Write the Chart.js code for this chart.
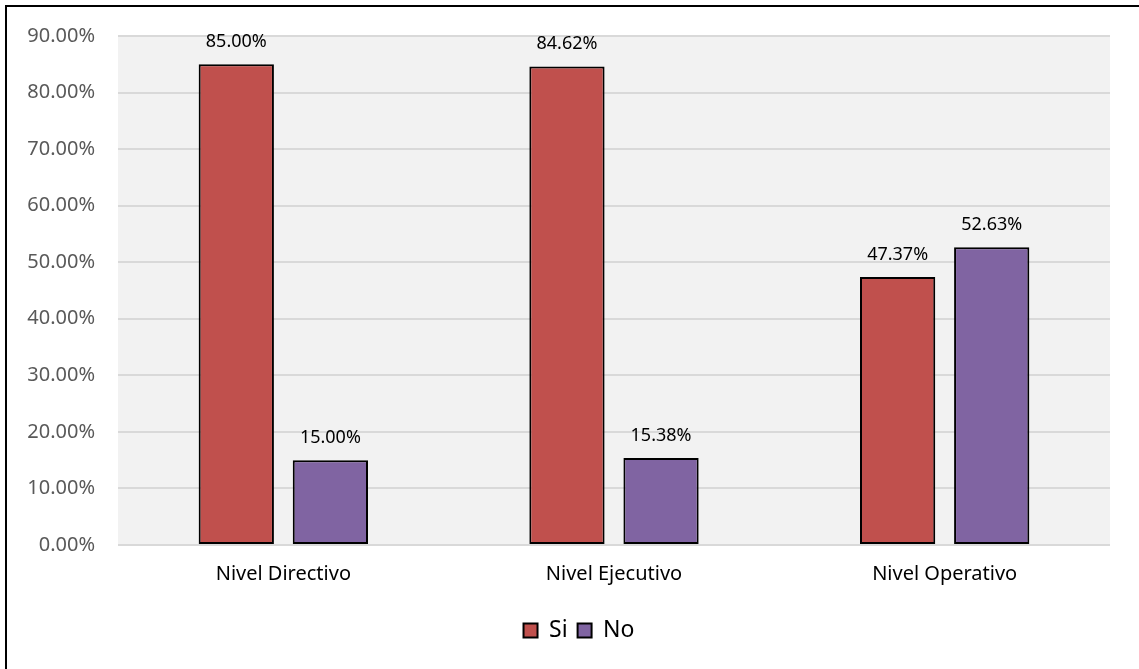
<!DOCTYPE html>
<html lang="es">
  <head>
    <meta charset="UTF-8" />
    <title>Nivel</title>
    <script src="https://cdn.jsdelivr.net/npm/chart.js"></script>
    <style>
      body { margin: 0; background: #fff; }
    </style>
  </head>
  <body>
    <canvas id="myChart" width="1139" height="669"></canvas>
    <script>
      // datos
      const niveles = ["Nivel Directivo", "Nivel Ejecutivo", "Nivel Operativo"];
      const si = [85.0, 84.62, 47.37];
      const no = [15.0, 15.38, 52.63];
      const yTicks = [0, 10, 20, 30, 40, 50, 60, 70, 80, 90];

      const font = "'Noto Sans', 'DejaVu Sans', sans-serif";

      // fondo gris del area de trazado + marco
      const fondo = {
        id: "fondo",
        afterLayout(chart) {
          // la leyenda va centrada en el marco completo, no en el area
          chart.legend.left += 24;
          chart.legend.right += 24;
        },
        beforeDraw(chart) {
          const { ctx, chartArea: a } = chart;
          ctx.save();
          ctx.fillStyle = "#f2f2f2";
          ctx.fillRect(a.left, a.top, a.right - a.left, a.bottom - a.top);
          ctx.restore();
        },
        afterDraw(chart) {
          const ctx = chart.ctx;
          ctx.save();
          ctx.strokeStyle = "#000";
          ctx.lineWidth = 2;
          ctx.beginPath();
          ctx.moveTo(6, chart.height);
          ctx.lineTo(6, 6);
          ctx.lineTo(chart.width, 6);
          ctx.stroke();
          ctx.restore();
        },
      };

      // etiquetas de valor encima de cada barra
      const etiquetas = {
        id: "etiquetas",
        afterDatasetsDraw(chart) {
          const ctx = chart.ctx;
          ctx.save();
          ctx.font = "18px " + font;
          ctx.fillStyle = "#000";
          ctx.textAlign = "center";
          ctx.textBaseline = "alphabetic";
          chart.data.datasets.forEach((ds, i) => {
            chart.getDatasetMeta(i).data.forEach((bar, j) => {
              ctx.fillText(ds.data[j].toFixed(2) + "%", bar.x, bar.y - 17);
            });
          });
          ctx.restore();
        },
      };

      new Chart(document.getElementById("myChart"), {
        type: "bar",
        data: {
          labels: niveles,
          datasets: [
            {
              label: "Si",
              data: si,
              backgroundColor: "#c0504d",
              borderColor: "#000",
              borderWidth: 2,
              borderSkipped: false,
            },
            {
              label: "No",
              data: no,
              backgroundColor: "#8064a2",
              borderColor: "#000",
              borderWidth: 2,
              borderSkipped: false,
            },
          ],
        },
        options: {
          responsive: false,
          animation: false,
          devicePixelRatio: 1,
          layout: { padding: { top: 36, right: 29, bottom: 17, left: 0 } },
          datasets: { bar: { categoryPercentage: 0.569, barPercentage: 0.8 } },
          scales: {
            x: {
              grid: { display: false, drawTicks: false },
              border: { display: false },
              ticks: { color: "#000", font: { family: font, size: 20 }, padding: 17 },
              afterFit(scale) { scale.height = 64; },
            },
            y: {
              min: 0,
              max: 90,
              afterBuildTicks(scale) { scale.ticks = yTicks.map((v) => ({ value: v })); },
              grid: { color: "#d9d9d9", lineWidth: 2, drawTicks: false },
              border: { display: false },
              ticks: {
                color: "#595959",
                font: { family: font, size: 20 },
                padding: 23,
                callback: (v) => v.toFixed(2) + "%",
              },
              afterFit(scale) { scale.width = 118; },
            },
          },
          plugins: {
            legend: {
              position: "bottom",
              labels: {
                color: "#000",
                font: { family: font, size: 23 },
                boxWidth: 14,
                boxHeight: 14,
                padding: 10,
              },
            },
            tooltip: { enabled: false },
          },
        },
        plugins: [fondo, etiquetas],
      });
    </script>
  </body>
</html>
